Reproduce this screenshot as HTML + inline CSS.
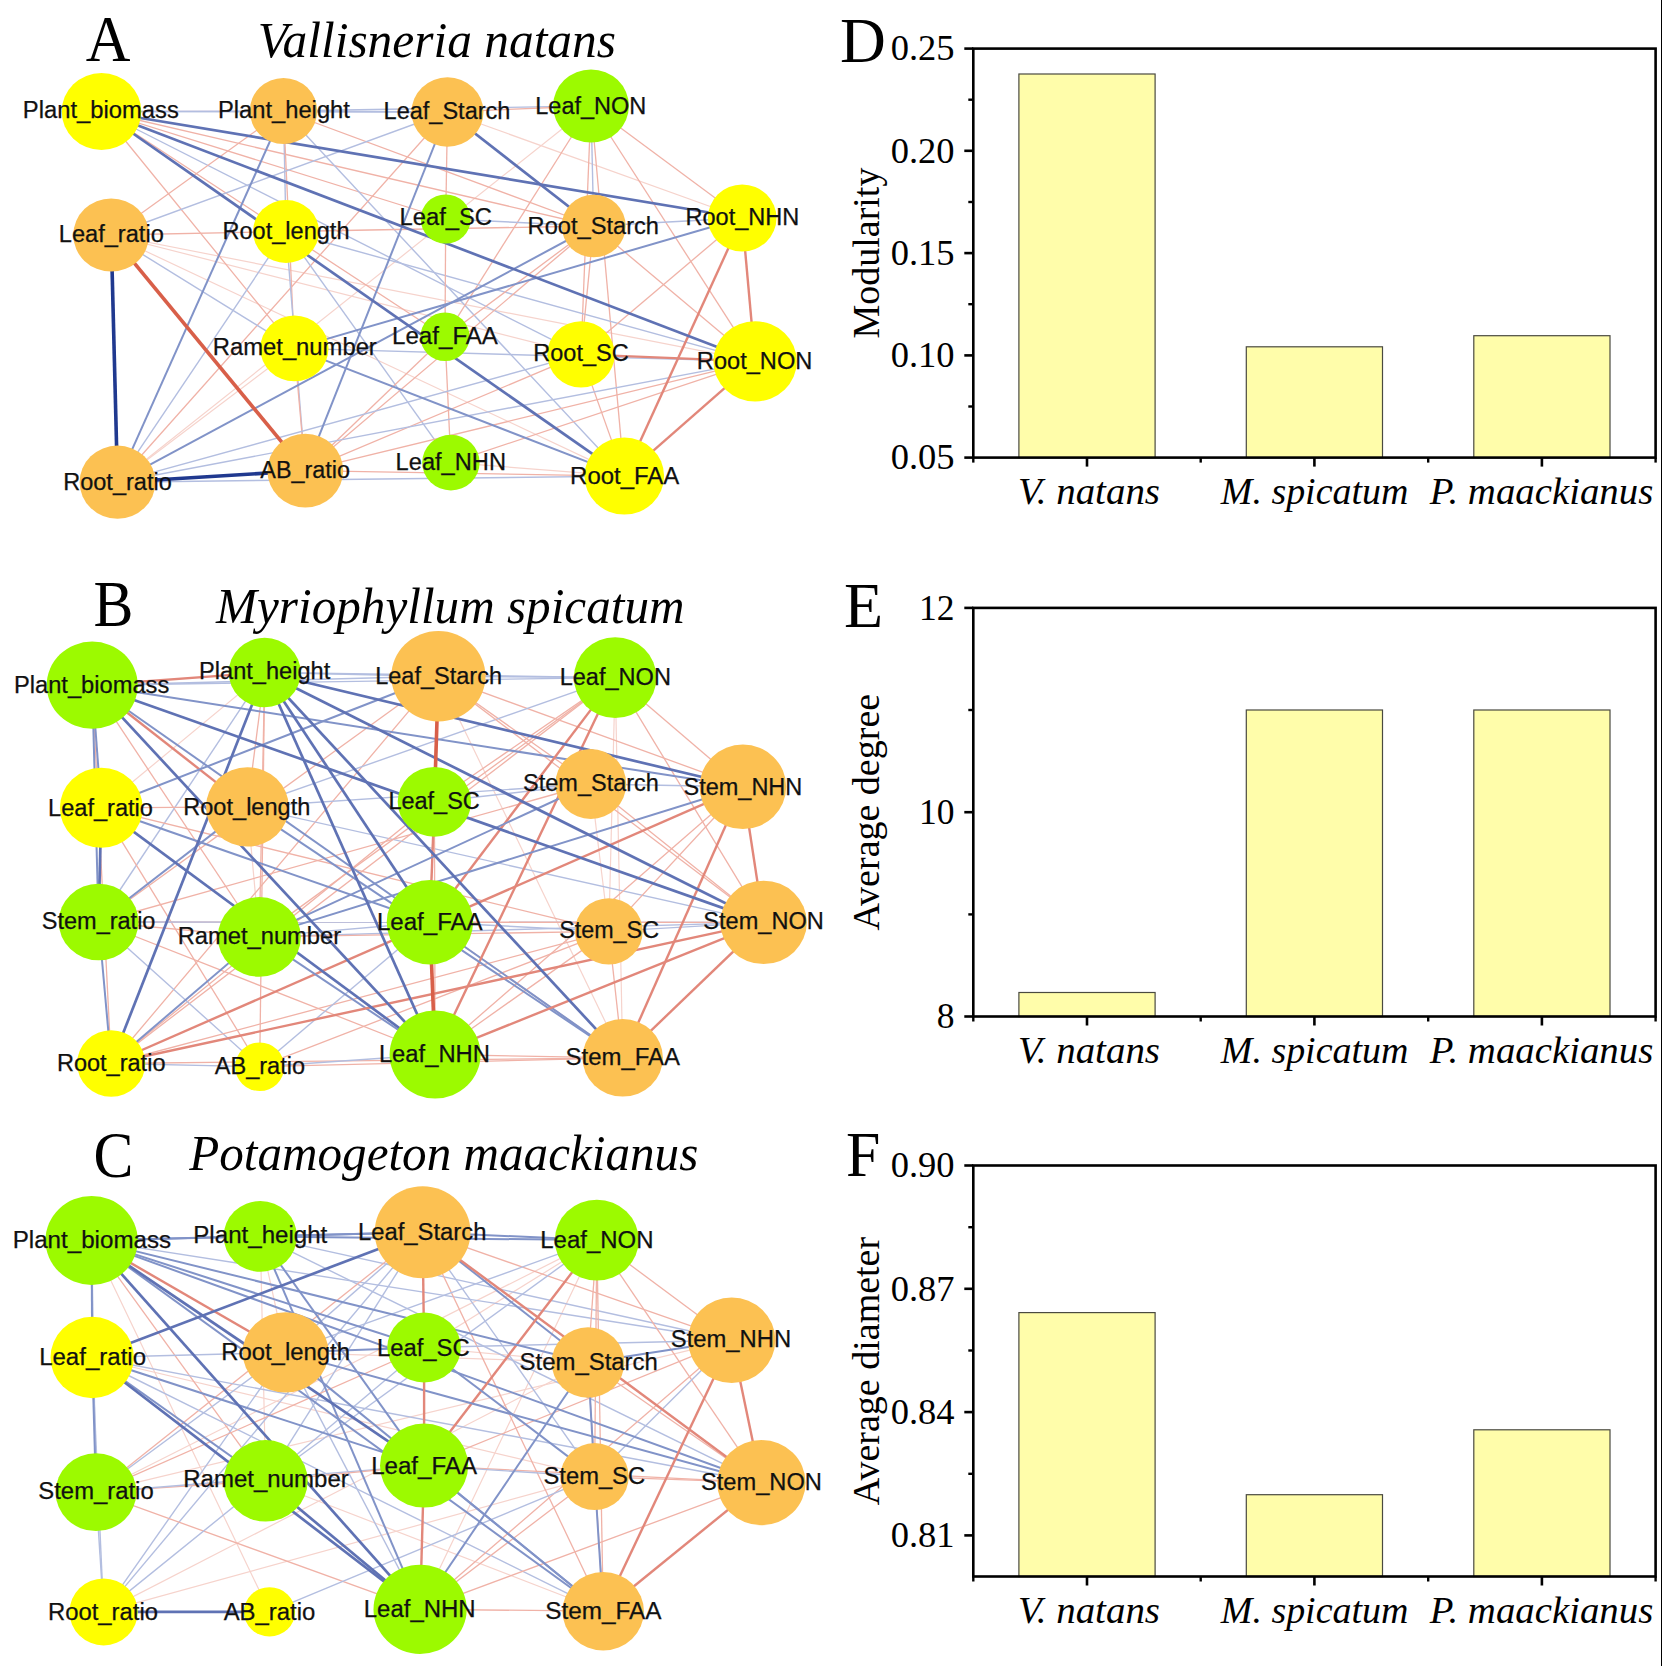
<!DOCTYPE html><html><head><meta charset="utf-8"><style>html,body{margin:0;padding:0;background:#fff;}svg{display:block}</style></head><body>
<svg xmlns="http://www.w3.org/2000/svg" width="1662" height="1666" viewBox="0 0 1662 1666">
<rect width="1662" height="1666" fill="#fff"/>
<g font-family="Liberation Sans, sans-serif" font-size="23.5" fill="#111">
<line x1="101.5" y1="111.5" x2="283.5" y2="111" stroke="#cbc8e2" stroke-width="1.5"/>
<line x1="447.5" y1="112" x2="742.2" y2="218" stroke="#f6d3cc" stroke-width="1.2"/>
<line x1="591" y1="106" x2="117.5" y2="482.2" stroke="#f6d3cc" stroke-width="1.2"/>
<line x1="111.2" y1="235" x2="755.1" y2="361.4" stroke="#f6d3cc" stroke-width="1.2"/>
<line x1="111.2" y1="235" x2="581" y2="354.4" stroke="#f6d3cc" stroke-width="1.2"/>
<line x1="111.2" y1="235" x2="624.3" y2="476.1" stroke="#f6d3cc" stroke-width="1.2"/>
<line x1="294.4" y1="348.4" x2="117.5" y2="482.2" stroke="#f6d3cc" stroke-width="1.2"/>
<line x1="450.9" y1="462.6" x2="624.3" y2="476.1" stroke="#f6d3cc" stroke-width="1.2"/>
<line x1="101.5" y1="111.5" x2="447.5" y2="112" stroke="#b3bee0" stroke-width="1.4"/>
<line x1="283.5" y1="111" x2="447.5" y2="112" stroke="#b3bee0" stroke-width="1.4"/>
<line x1="283.5" y1="111" x2="591" y2="106" stroke="#b3bee0" stroke-width="1.4"/>
<line x1="447.5" y1="112" x2="591" y2="106" stroke="#f0b2a7" stroke-width="1.3"/>
<line x1="101.5" y1="111.5" x2="593.7" y2="226" stroke="#f0b2a7" stroke-width="1.3"/>
<line x1="101.5" y1="111.5" x2="445.7" y2="219" stroke="#f0b2a7" stroke-width="1.3"/>
<line x1="101.5" y1="111.5" x2="581" y2="354.4" stroke="#b3bee0" stroke-width="1.4"/>
<line x1="101.5" y1="111.5" x2="445" y2="336.8" stroke="#f0b2a7" stroke-width="1.3"/>
<line x1="101.5" y1="111.5" x2="294.4" y2="348.4" stroke="#f0b2a7" stroke-width="1.3"/>
<line x1="283.5" y1="111" x2="593.7" y2="226" stroke="#f0b2a7" stroke-width="1.3"/>
<line x1="283.5" y1="111" x2="624.3" y2="476.1" stroke="#b3bee0" stroke-width="1.4"/>
<line x1="283.5" y1="111" x2="286" y2="231.5" stroke="#b3bee0" stroke-width="1.4"/>
<line x1="283.5" y1="111" x2="294.4" y2="348.4" stroke="#f0b2a7" stroke-width="1.3"/>
<line x1="283.5" y1="111" x2="111.2" y2="235" stroke="#f0b2a7" stroke-width="1.3"/>
<line x1="447.5" y1="112" x2="445.7" y2="219" stroke="#f0b2a7" stroke-width="1.3"/>
<line x1="447.5" y1="112" x2="117.5" y2="482.2" stroke="#f0b2a7" stroke-width="1.3"/>
<line x1="447.5" y1="112" x2="111.2" y2="235" stroke="#b3bee0" stroke-width="1.4"/>
<line x1="591" y1="106" x2="742.2" y2="218" stroke="#f0b2a7" stroke-width="1.3"/>
<line x1="591" y1="106" x2="755.1" y2="361.4" stroke="#f0b2a7" stroke-width="1.3"/>
<line x1="591" y1="106" x2="581" y2="354.4" stroke="#f0b2a7" stroke-width="1.3"/>
<line x1="591" y1="106" x2="593.7" y2="226" stroke="#b3bee0" stroke-width="1.4"/>
<line x1="591" y1="106" x2="624.3" y2="476.1" stroke="#f0b2a7" stroke-width="1.3"/>
<line x1="591" y1="106" x2="445" y2="336.8" stroke="#f0b2a7" stroke-width="1.3"/>
<line x1="111.2" y1="235" x2="286" y2="231.5" stroke="#f0b2a7" stroke-width="1.3"/>
<line x1="111.2" y1="235" x2="294.4" y2="348.4" stroke="#b3bee0" stroke-width="1.4"/>
<line x1="286" y1="231.5" x2="593.7" y2="226" stroke="#f0b2a7" stroke-width="1.3"/>
<line x1="286" y1="231.5" x2="755.1" y2="361.4" stroke="#b3bee0" stroke-width="1.4"/>
<line x1="286" y1="231.5" x2="450.9" y2="462.6" stroke="#b3bee0" stroke-width="1.4"/>
<line x1="286" y1="231.5" x2="117.5" y2="482.2" stroke="#b3bee0" stroke-width="1.4"/>
<line x1="286" y1="231.5" x2="305.3" y2="470.7" stroke="#b3bee0" stroke-width="1.4"/>
<line x1="445.7" y1="219" x2="593.7" y2="226" stroke="#b3bee0" stroke-width="1.4"/>
<line x1="445.7" y1="219" x2="445" y2="336.8" stroke="#f0b2a7" stroke-width="1.3"/>
<line x1="593.7" y1="226" x2="742.2" y2="218" stroke="#b3bee0" stroke-width="1.4"/>
<line x1="593.7" y1="226" x2="305.3" y2="470.7" stroke="#f0b2a7" stroke-width="1.3"/>
<line x1="593.7" y1="226" x2="581" y2="354.4" stroke="#f0b2a7" stroke-width="1.3"/>
<line x1="593.7" y1="226" x2="755.1" y2="361.4" stroke="#f0b2a7" stroke-width="1.3"/>
<line x1="742.2" y1="218" x2="581" y2="354.4" stroke="#f0b2a7" stroke-width="1.3"/>
<line x1="294.4" y1="348.4" x2="755.1" y2="361.4" stroke="#b3bee0" stroke-width="1.4"/>
<line x1="294.4" y1="348.4" x2="305.3" y2="470.7" stroke="#f0b2a7" stroke-width="1.3"/>
<line x1="445" y1="336.8" x2="305.3" y2="470.7" stroke="#f0b2a7" stroke-width="1.3"/>
<line x1="445" y1="336.8" x2="450.9" y2="462.6" stroke="#f0b2a7" stroke-width="1.3"/>
<line x1="445" y1="336.8" x2="593.7" y2="226" stroke="#f0b2a7" stroke-width="1.3"/>
<line x1="581" y1="354.4" x2="117.5" y2="482.2" stroke="#b3bee0" stroke-width="1.4"/>
<line x1="581" y1="354.4" x2="305.3" y2="470.7" stroke="#f0b2a7" stroke-width="1.3"/>
<line x1="581" y1="354.4" x2="624.3" y2="476.1" stroke="#f0b2a7" stroke-width="1.3"/>
<line x1="755.1" y1="361.4" x2="117.5" y2="482.2" stroke="#b3bee0" stroke-width="1.4"/>
<line x1="755.1" y1="361.4" x2="305.3" y2="470.7" stroke="#f0b2a7" stroke-width="1.3"/>
<line x1="755.1" y1="361.4" x2="450.9" y2="462.6" stroke="#f0b2a7" stroke-width="1.3"/>
<line x1="117.5" y1="482.2" x2="624.3" y2="476.1" stroke="#b3bee0" stroke-width="1.4"/>
<line x1="305.3" y1="470.7" x2="624.3" y2="476.1" stroke="#f0b2a7" stroke-width="1.3"/>
<line x1="283.5" y1="111" x2="117.5" y2="482.2" stroke="#8193c8" stroke-width="2.0"/>
<line x1="447.5" y1="112" x2="305.3" y2="470.7" stroke="#8193c8" stroke-width="2.0"/>
<line x1="593.7" y1="226" x2="117.5" y2="482.2" stroke="#8193c8" stroke-width="2.0"/>
<line x1="742.2" y1="218" x2="294.4" y2="348.4" stroke="#8193c8" stroke-width="2.0"/>
<line x1="742.2" y1="218" x2="624.3" y2="476.1" stroke="#e2877a" stroke-width="2.4"/>
<line x1="742.2" y1="218" x2="755.1" y2="361.4" stroke="#e2877a" stroke-width="2.4"/>
<line x1="294.4" y1="348.4" x2="624.3" y2="476.1" stroke="#8193c8" stroke-width="2.0"/>
<line x1="581" y1="354.4" x2="755.1" y2="361.4" stroke="#e2877a" stroke-width="2.4"/>
<line x1="755.1" y1="361.4" x2="624.3" y2="476.1" stroke="#e2877a" stroke-width="2.4"/>
<line x1="101.5" y1="111.5" x2="742.2" y2="218" stroke="#5f72b4" stroke-width="2.7"/>
<line x1="101.5" y1="111.5" x2="755.1" y2="361.4" stroke="#5f72b4" stroke-width="2.7"/>
<line x1="101.5" y1="111.5" x2="624.3" y2="476.1" stroke="#5f72b4" stroke-width="2.7"/>
<line x1="447.5" y1="112" x2="593.7" y2="226" stroke="#5f72b4" stroke-width="2.7"/>
<line x1="111.2" y1="235" x2="305.3" y2="470.7" stroke="#d85f49" stroke-width="3.6"/>
<line x1="111.2" y1="235" x2="117.5" y2="482.2" stroke="#20398f" stroke-width="3.6"/>
<line x1="117.5" y1="482.2" x2="305.3" y2="470.7" stroke="#20398f" stroke-width="3.6"/>
<ellipse cx="101.5" cy="111.5" rx="39.8" ry="38.5" fill="#FFFF00"/>
<ellipse cx="283.5" cy="111" rx="33.7" ry="33.1" fill="#FCC152"/>
<ellipse cx="447.5" cy="112" rx="36" ry="34.7" fill="#FCC152"/>
<ellipse cx="591" cy="106" rx="37.9" ry="36.6" fill="#9CFA00"/>
<ellipse cx="111.2" cy="235" rx="37.9" ry="36.6" fill="#FCC152"/>
<ellipse cx="286" cy="231.5" rx="33" ry="31.5" fill="#FFFF00"/>
<ellipse cx="445.7" cy="219" rx="25" ry="24.6" fill="#9CFA00"/>
<ellipse cx="593.7" cy="226" rx="32" ry="31.3" fill="#FCC152"/>
<ellipse cx="742.2" cy="218" rx="34.3" ry="33.5" fill="#FFFF00"/>
<ellipse cx="294.4" cy="348.4" rx="34.1" ry="32.9" fill="#FFFF00"/>
<ellipse cx="445" cy="336.8" rx="24.6" ry="24.3" fill="#9CFA00"/>
<ellipse cx="581" cy="354.4" rx="33.7" ry="33.1" fill="#FFFF00"/>
<ellipse cx="755.1" cy="361.4" rx="41.7" ry="40.1" fill="#FFFF00"/>
<ellipse cx="117.5" cy="482.2" rx="37.9" ry="36.6" fill="#FCC152"/>
<ellipse cx="305.3" cy="470.7" rx="37.9" ry="36.9" fill="#FCC152"/>
<ellipse cx="450.9" cy="462.6" rx="28.7" ry="27.8" fill="#9CFA00"/>
<ellipse cx="624.3" cy="476.1" rx="39.8" ry="38.5" fill="#FFFF00"/>
<text x="100.8" y="118.3" text-anchor="middle" textLength="156" lengthAdjust="spacingAndGlyphs" stroke="#111" stroke-width="0.25">Plant_biomass</text>
<text x="283.9" y="118.3" text-anchor="middle" textLength="132" lengthAdjust="spacingAndGlyphs" stroke="#111" stroke-width="0.25">Plant_height</text>
<text x="447" y="118.8" text-anchor="middle" textLength="126.8" lengthAdjust="spacingAndGlyphs" stroke="#111" stroke-width="0.25">Leaf_Starch</text>
<text x="590.8" y="113.8" text-anchor="middle" textLength="111" lengthAdjust="spacingAndGlyphs" stroke="#111" stroke-width="0.25">Leaf_NON</text>
<text x="111.3" y="242.1" text-anchor="middle" textLength="105" lengthAdjust="spacingAndGlyphs" stroke="#111" stroke-width="0.25">Leaf_ratio</text>
<text x="286" y="238.8" text-anchor="middle" textLength="127" lengthAdjust="spacingAndGlyphs" stroke="#111" stroke-width="0.25">Root_length</text>
<text x="445.8" y="225.4" text-anchor="middle" textLength="92.4" lengthAdjust="spacingAndGlyphs" stroke="#111" stroke-width="0.25">Leaf_SC</text>
<text x="593.3" y="233.8" text-anchor="middle" textLength="131.4" lengthAdjust="spacingAndGlyphs" stroke="#111" stroke-width="0.25">Root_Starch</text>
<text x="742.4" y="224.9" text-anchor="middle" textLength="113.7" lengthAdjust="spacingAndGlyphs" stroke="#111" stroke-width="0.25">Root_NHN</text>
<text x="294.8" y="355.4" text-anchor="middle" textLength="164" lengthAdjust="spacingAndGlyphs" stroke="#111" stroke-width="0.25">Ramet_number</text>
<text x="445" y="343.8" text-anchor="middle" textLength="105.9" lengthAdjust="spacingAndGlyphs" stroke="#111" stroke-width="0.25">Leaf_FAA</text>
<text x="581" y="361" text-anchor="middle" textLength="95.3" lengthAdjust="spacingAndGlyphs" stroke="#111" stroke-width="0.25">Root_SC</text>
<text x="754.6" y="368.6" text-anchor="middle" textLength="115.5" lengthAdjust="spacingAndGlyphs" stroke="#111" stroke-width="0.25">Root_NON</text>
<text x="117.5" y="489.9" text-anchor="middle" textLength="108.6" lengthAdjust="spacingAndGlyphs" stroke="#111" stroke-width="0.25">Root_ratio</text>
<text x="305.2" y="477.7" text-anchor="middle" textLength="89.7" lengthAdjust="spacingAndGlyphs" stroke="#111" stroke-width="0.25">AB_ratio</text>
<text x="450.8" y="469.6" text-anchor="middle" textLength="110.4" lengthAdjust="spacingAndGlyphs" stroke="#111" stroke-width="0.25">Leaf_NHN</text>
<text x="624.7" y="483.5" text-anchor="middle" textLength="109.2" lengthAdjust="spacingAndGlyphs" stroke="#111" stroke-width="0.25">Root_FAA</text>
<line x1="264.7" y1="672.5" x2="101.3" y2="807.8" stroke="#f6d3cc" stroke-width="1.2"/>
<line x1="438.4" y1="676.2" x2="622.7" y2="1057.8" stroke="#f6d3cc" stroke-width="1.2"/>
<line x1="615.2" y1="677.6" x2="622.7" y2="1057.8" stroke="#f6d3cc" stroke-width="1.2"/>
<line x1="615.2" y1="677.6" x2="608.8" y2="931.4" stroke="#f6d3cc" stroke-width="1.2"/>
<line x1="247.4" y1="806.9" x2="259.3" y2="936.9" stroke="#f6d3cc" stroke-width="1.2"/>
<line x1="590.8" y1="784" x2="608.8" y2="931.4" stroke="#f6d3cc" stroke-width="1.2"/>
<line x1="92.2" y1="685.2" x2="438.4" y2="676.2" stroke="#b3bee0" stroke-width="1.4"/>
<line x1="92.2" y1="685.2" x2="615.2" y2="677.6" stroke="#b3bee0" stroke-width="1.4"/>
<line x1="92.2" y1="685.2" x2="259.3" y2="936.9" stroke="#f0b2a7" stroke-width="1.3"/>
<line x1="92.2" y1="685.2" x2="111.2" y2="1063.5" stroke="#f0b2a7" stroke-width="1.3"/>
<line x1="264.7" y1="672.5" x2="438.4" y2="676.2" stroke="#b3bee0" stroke-width="1.4"/>
<line x1="264.7" y1="672.5" x2="615.2" y2="677.6" stroke="#b3bee0" stroke-width="1.4"/>
<line x1="264.7" y1="672.5" x2="247.4" y2="806.9" stroke="#f0b2a7" stroke-width="1.3"/>
<line x1="264.7" y1="672.5" x2="259.3" y2="936.9" stroke="#f0b2a7" stroke-width="1.3"/>
<line x1="264.7" y1="672.5" x2="259.7" y2="1066.7" stroke="#f0b2a7" stroke-width="1.3"/>
<line x1="264.7" y1="672.5" x2="98.6" y2="922" stroke="#b3bee0" stroke-width="1.4"/>
<line x1="438.4" y1="676.2" x2="615.2" y2="677.6" stroke="#b3bee0" stroke-width="1.4"/>
<line x1="438.4" y1="676.2" x2="111.2" y2="1063.5" stroke="#f0b2a7" stroke-width="1.3"/>
<line x1="438.4" y1="676.2" x2="98.6" y2="922" stroke="#f0b2a7" stroke-width="1.3"/>
<line x1="438.4" y1="676.2" x2="590.8" y2="784" stroke="#f0b2a7" stroke-width="1.3"/>
<line x1="438.4" y1="676.2" x2="742.9" y2="786.8" stroke="#f0b2a7" stroke-width="1.3"/>
<line x1="438.4" y1="676.2" x2="429.9" y2="922.2" stroke="#f0b2a7" stroke-width="1.3"/>
<line x1="615.2" y1="677.6" x2="247.4" y2="806.9" stroke="#b3bee0" stroke-width="1.4"/>
<line x1="615.2" y1="677.6" x2="434.4" y2="801.8" stroke="#f0b2a7" stroke-width="1.3"/>
<line x1="615.2" y1="677.6" x2="259.3" y2="936.9" stroke="#f0b2a7" stroke-width="1.3"/>
<line x1="615.2" y1="677.6" x2="111.2" y2="1063.5" stroke="#f0b2a7" stroke-width="1.3"/>
<line x1="615.2" y1="677.6" x2="763.6" y2="922.4" stroke="#f0b2a7" stroke-width="1.3"/>
<line x1="615.2" y1="677.6" x2="742.9" y2="786.8" stroke="#f0b2a7" stroke-width="1.3"/>
<line x1="101.3" y1="807.8" x2="247.4" y2="806.9" stroke="#f0b2a7" stroke-width="1.3"/>
<line x1="101.3" y1="807.8" x2="608.8" y2="931.4" stroke="#f0b2a7" stroke-width="1.3"/>
<line x1="101.3" y1="807.8" x2="259.7" y2="1066.7" stroke="#f0b2a7" stroke-width="1.3"/>
<line x1="247.4" y1="806.9" x2="590.8" y2="784" stroke="#b3bee0" stroke-width="1.4"/>
<line x1="247.4" y1="806.9" x2="763.6" y2="922.4" stroke="#b3bee0" stroke-width="1.4"/>
<line x1="434.4" y1="801.8" x2="435.1" y2="1054.5" stroke="#f0b2a7" stroke-width="1.3"/>
<line x1="434.4" y1="801.8" x2="590.8" y2="784" stroke="#b3bee0" stroke-width="1.4"/>
<line x1="434.4" y1="801.8" x2="111.2" y2="1063.5" stroke="#f0b2a7" stroke-width="1.3"/>
<line x1="590.8" y1="784" x2="98.6" y2="922" stroke="#f0b2a7" stroke-width="1.3"/>
<line x1="590.8" y1="784" x2="763.6" y2="922.4" stroke="#f0b2a7" stroke-width="1.3"/>
<line x1="590.8" y1="784" x2="742.9" y2="786.8" stroke="#b3bee0" stroke-width="1.4"/>
<line x1="742.9" y1="786.8" x2="435.1" y2="1054.5" stroke="#f0b2a7" stroke-width="1.3"/>
<line x1="742.9" y1="786.8" x2="608.8" y2="931.4" stroke="#f0b2a7" stroke-width="1.3"/>
<line x1="98.6" y1="922" x2="429.9" y2="922.2" stroke="#f0b2a7" stroke-width="1.3"/>
<line x1="98.6" y1="922" x2="763.6" y2="922.4" stroke="#b3bee0" stroke-width="1.4"/>
<line x1="98.6" y1="922" x2="435.1" y2="1054.5" stroke="#f0b2a7" stroke-width="1.3"/>
<line x1="98.6" y1="922" x2="259.7" y2="1066.7" stroke="#b3bee0" stroke-width="1.4"/>
<line x1="259.3" y1="936.9" x2="98.6" y2="922" stroke="#f0b2a7" stroke-width="1.3"/>
<line x1="259.3" y1="936.9" x2="429.9" y2="922.2" stroke="#b3bee0" stroke-width="1.4"/>
<line x1="259.3" y1="936.9" x2="763.6" y2="922.4" stroke="#b3bee0" stroke-width="1.4"/>
<line x1="259.3" y1="936.9" x2="608.8" y2="931.4" stroke="#f0b2a7" stroke-width="1.3"/>
<line x1="429.9" y1="922.2" x2="608.8" y2="931.4" stroke="#b3bee0" stroke-width="1.4"/>
<line x1="429.9" y1="922.2" x2="763.6" y2="922.4" stroke="#f0b2a7" stroke-width="1.3"/>
<line x1="429.9" y1="922.2" x2="622.7" y2="1057.8" stroke="#f0b2a7" stroke-width="1.3"/>
<line x1="608.8" y1="931.4" x2="763.6" y2="922.4" stroke="#b3bee0" stroke-width="1.4"/>
<line x1="608.8" y1="931.4" x2="622.7" y2="1057.8" stroke="#f0b2a7" stroke-width="1.3"/>
<line x1="608.8" y1="931.4" x2="111.2" y2="1063.5" stroke="#f0b2a7" stroke-width="1.3"/>
<line x1="608.8" y1="931.4" x2="259.7" y2="1066.7" stroke="#f0b2a7" stroke-width="1.3"/>
<line x1="608.8" y1="931.4" x2="435.1" y2="1054.5" stroke="#f0b2a7" stroke-width="1.3"/>
<line x1="763.6" y1="922.4" x2="438.4" y2="676.2" stroke="#f0b2a7" stroke-width="1.3"/>
<line x1="111.2" y1="1063.5" x2="259.7" y2="1066.7" stroke="#b3bee0" stroke-width="1.4"/>
<line x1="111.2" y1="1063.5" x2="622.7" y2="1057.8" stroke="#f0b2a7" stroke-width="1.3"/>
<line x1="259.7" y1="1066.7" x2="429.9" y2="922.2" stroke="#b3bee0" stroke-width="1.4"/>
<line x1="259.7" y1="1066.7" x2="435.1" y2="1054.5" stroke="#b3bee0" stroke-width="1.4"/>
<line x1="259.7" y1="1066.7" x2="622.7" y2="1057.8" stroke="#f0b2a7" stroke-width="1.3"/>
<line x1="435.1" y1="1054.5" x2="622.7" y2="1057.8" stroke="#f0b2a7" stroke-width="1.3"/>
<line x1="92.2" y1="685.2" x2="264.7" y2="672.5" stroke="#e2877a" stroke-width="2.4"/>
<line x1="92.2" y1="685.2" x2="742.9" y2="786.8" stroke="#8193c8" stroke-width="2.0"/>
<line x1="92.2" y1="685.2" x2="622.7" y2="1057.8" stroke="#8193c8" stroke-width="2.0"/>
<line x1="92.2" y1="685.2" x2="247.4" y2="806.9" stroke="#e2877a" stroke-width="2.4"/>
<line x1="92.2" y1="685.2" x2="98.6" y2="922" stroke="#8193c8" stroke-width="2.0"/>
<line x1="92.2" y1="685.2" x2="101.3" y2="807.8" stroke="#8193c8" stroke-width="2.0"/>
<line x1="438.4" y1="676.2" x2="101.3" y2="807.8" stroke="#8193c8" stroke-width="2.0"/>
<line x1="615.2" y1="677.6" x2="429.9" y2="922.2" stroke="#e2877a" stroke-width="2.4"/>
<line x1="615.2" y1="677.6" x2="435.1" y2="1054.5" stroke="#e2877a" stroke-width="2.4"/>
<line x1="101.3" y1="807.8" x2="429.9" y2="922.2" stroke="#8193c8" stroke-width="2.0"/>
<line x1="247.4" y1="806.9" x2="622.7" y2="1057.8" stroke="#8193c8" stroke-width="2.0"/>
<line x1="434.4" y1="801.8" x2="429.9" y2="922.2" stroke="#e2877a" stroke-width="2.4"/>
<line x1="590.8" y1="784" x2="259.3" y2="936.9" stroke="#8193c8" stroke-width="2.0"/>
<line x1="742.9" y1="786.8" x2="259.3" y2="936.9" stroke="#8193c8" stroke-width="2.0"/>
<line x1="742.9" y1="786.8" x2="111.2" y2="1063.5" stroke="#e2877a" stroke-width="2.4"/>
<line x1="742.9" y1="786.8" x2="622.7" y2="1057.8" stroke="#e2877a" stroke-width="2.4"/>
<line x1="742.9" y1="786.8" x2="763.6" y2="922.4" stroke="#e2877a" stroke-width="2.4"/>
<line x1="98.6" y1="922" x2="247.4" y2="806.9" stroke="#8193c8" stroke-width="2.0"/>
<line x1="98.6" y1="922" x2="111.2" y2="1063.5" stroke="#8193c8" stroke-width="2.0"/>
<line x1="259.3" y1="936.9" x2="435.1" y2="1054.5" stroke="#8193c8" stroke-width="2.0"/>
<line x1="259.3" y1="936.9" x2="111.2" y2="1063.5" stroke="#8193c8" stroke-width="2.0"/>
<line x1="763.6" y1="922.4" x2="111.2" y2="1063.5" stroke="#e2877a" stroke-width="2.4"/>
<line x1="763.6" y1="922.4" x2="435.1" y2="1054.5" stroke="#e2877a" stroke-width="2.4"/>
<line x1="763.6" y1="922.4" x2="622.7" y2="1057.8" stroke="#e2877a" stroke-width="2.4"/>
<line x1="92.2" y1="685.2" x2="763.6" y2="922.4" stroke="#5f72b4" stroke-width="2.7"/>
<line x1="92.2" y1="685.2" x2="435.1" y2="1054.5" stroke="#5f72b4" stroke-width="2.7"/>
<line x1="264.7" y1="672.5" x2="742.9" y2="786.8" stroke="#5f72b4" stroke-width="2.7"/>
<line x1="264.7" y1="672.5" x2="763.6" y2="922.4" stroke="#5f72b4" stroke-width="2.7"/>
<line x1="264.7" y1="672.5" x2="622.7" y2="1057.8" stroke="#5f72b4" stroke-width="2.7"/>
<line x1="264.7" y1="672.5" x2="429.9" y2="922.2" stroke="#5f72b4" stroke-width="2.7"/>
<line x1="264.7" y1="672.5" x2="435.1" y2="1054.5" stroke="#5f72b4" stroke-width="2.7"/>
<line x1="264.7" y1="672.5" x2="111.2" y2="1063.5" stroke="#5f72b4" stroke-width="2.7"/>
<line x1="438.4" y1="676.2" x2="434.4" y2="801.8" stroke="#d85f49" stroke-width="3.6"/>
<line x1="101.3" y1="807.8" x2="435.1" y2="1054.5" stroke="#5f72b4" stroke-width="2.7"/>
<line x1="101.3" y1="807.8" x2="98.6" y2="922" stroke="#5f72b4" stroke-width="2.7"/>
<line x1="429.9" y1="922.2" x2="435.1" y2="1054.5" stroke="#d85f49" stroke-width="3.6"/>
<ellipse cx="92.2" cy="685.2" rx="45.5" ry="43.6" fill="#9CFA00"/>
<ellipse cx="264.7" cy="672.5" rx="36" ry="34.7" fill="#9CFA00"/>
<ellipse cx="438.4" cy="676.2" rx="47.1" ry="45.2" fill="#FCC152"/>
<ellipse cx="615.2" cy="677.6" rx="41.3" ry="40.4" fill="#9CFA00"/>
<ellipse cx="101.3" cy="807.8" rx="41.4" ry="40" fill="#FFFF00"/>
<ellipse cx="247.4" cy="806.9" rx="41.4" ry="39.7" fill="#FCC152"/>
<ellipse cx="434.4" cy="801.8" rx="36.7" ry="34.9" fill="#9CFA00"/>
<ellipse cx="590.8" cy="784" rx="35.4" ry="35" fill="#FCC152"/>
<ellipse cx="742.9" cy="786.8" rx="43.3" ry="42.3" fill="#FCC152"/>
<ellipse cx="98.6" cy="922" rx="39.9" ry="38.3" fill="#9CFA00"/>
<ellipse cx="259.3" cy="936.9" rx="41.5" ry="39.8" fill="#9CFA00"/>
<ellipse cx="429.9" cy="922.2" rx="43.2" ry="42.2" fill="#9CFA00"/>
<ellipse cx="608.8" cy="931.4" rx="33.9" ry="33.1" fill="#FCC152"/>
<ellipse cx="763.6" cy="922.4" rx="43.2" ry="41.7" fill="#FCC152"/>
<ellipse cx="111.2" cy="1063.5" rx="34.1" ry="33.2" fill="#FFFF00"/>
<ellipse cx="259.7" cy="1066.7" rx="24.6" ry="24.3" fill="#FFFF00"/>
<ellipse cx="435.1" cy="1054.5" rx="45.5" ry="44" fill="#9CFA00"/>
<ellipse cx="622.7" cy="1057.8" rx="40.2" ry="38.8" fill="#FCC152"/>
<text x="91.6" y="692.7" text-anchor="middle" textLength="155.4" lengthAdjust="spacingAndGlyphs" stroke="#111" stroke-width="0.25">Plant_biomass</text>
<text x="264.7" y="679.3" text-anchor="middle" textLength="131.2" lengthAdjust="spacingAndGlyphs" stroke="#111" stroke-width="0.25">Plant_height</text>
<text x="438.6" y="684" text-anchor="middle" textLength="126.8" lengthAdjust="spacingAndGlyphs" stroke="#111" stroke-width="0.25">Leaf_Starch</text>
<text x="615.3" y="684.6" text-anchor="middle" textLength="111.2" lengthAdjust="spacingAndGlyphs" stroke="#111" stroke-width="0.25">Leaf_NON</text>
<text x="100.5" y="815.7" text-anchor="middle" textLength="105" lengthAdjust="spacingAndGlyphs" stroke="#111" stroke-width="0.25">Leaf_ratio</text>
<text x="246.8" y="814.7" text-anchor="middle" textLength="127.1" lengthAdjust="spacingAndGlyphs" stroke="#111" stroke-width="0.25">Root_length</text>
<text x="434.1" y="809.3" text-anchor="middle" textLength="91.4" lengthAdjust="spacingAndGlyphs" stroke="#111" stroke-width="0.25">Leaf_SC</text>
<text x="591" y="791.2" text-anchor="middle" textLength="135.9" lengthAdjust="spacingAndGlyphs" stroke="#111" stroke-width="0.25">Stem_Starch</text>
<text x="742.9" y="795" text-anchor="middle" textLength="118.8" lengthAdjust="spacingAndGlyphs" stroke="#111" stroke-width="0.25">Stem_NHN</text>
<text x="98.6" y="929.2" text-anchor="middle" textLength="113.7" lengthAdjust="spacingAndGlyphs" stroke="#111" stroke-width="0.25">Stem_ratio</text>
<text x="259.4" y="943.8" text-anchor="middle" textLength="163.5" lengthAdjust="spacingAndGlyphs" stroke="#111" stroke-width="0.25">Ramet_number</text>
<text x="429.8" y="929.8" text-anchor="middle" textLength="105.7" lengthAdjust="spacingAndGlyphs" stroke="#111" stroke-width="0.25">Leaf_FAA</text>
<text x="609.1" y="938.3" text-anchor="middle" textLength="99.8" lengthAdjust="spacingAndGlyphs" stroke="#111" stroke-width="0.25">Stem_SC</text>
<text x="763.6" y="929.2" text-anchor="middle" textLength="120.5" lengthAdjust="spacingAndGlyphs" stroke="#111" stroke-width="0.25">Stem_NON</text>
<text x="111.2" y="1070.7" text-anchor="middle" textLength="108.6" lengthAdjust="spacingAndGlyphs" stroke="#111" stroke-width="0.25">Root_ratio</text>
<text x="259.9" y="1073.5" text-anchor="middle" textLength="90.2" lengthAdjust="spacingAndGlyphs" stroke="#111" stroke-width="0.25">AB_ratio</text>
<text x="434.4" y="1062.4" text-anchor="middle" textLength="111" lengthAdjust="spacingAndGlyphs" stroke="#111" stroke-width="0.25">Leaf_NHN</text>
<text x="622.8" y="1064.6" text-anchor="middle" textLength="114.5" lengthAdjust="spacingAndGlyphs" stroke="#111" stroke-width="0.25">Stem_FAA</text>
<line x1="91.6" y1="1240.4" x2="269.5" y2="1611.8" stroke="#f6d3cc" stroke-width="1.2"/>
<line x1="260.3" y1="1236.4" x2="265.7" y2="1480.8" stroke="#f6d3cc" stroke-width="1.2"/>
<line x1="260.3" y1="1236.4" x2="285.6" y2="1352.4" stroke="#f6d3cc" stroke-width="1.2"/>
<line x1="596.8" y1="1240.1" x2="96" y2="1492.2" stroke="#f6d3cc" stroke-width="1.2"/>
<line x1="596.8" y1="1240.1" x2="424.1" y2="1347.5" stroke="#f6d3cc" stroke-width="1.2"/>
<line x1="596.8" y1="1240.1" x2="420.1" y2="1609.3" stroke="#f6d3cc" stroke-width="1.2"/>
<line x1="92.2" y1="1357.5" x2="594.6" y2="1476.6" stroke="#f6d3cc" stroke-width="1.2"/>
<line x1="285.6" y1="1352.4" x2="588" y2="1362.5" stroke="#f6d3cc" stroke-width="1.2"/>
<line x1="424.1" y1="1347.5" x2="588" y2="1362.5" stroke="#f6d3cc" stroke-width="1.2"/>
<line x1="588" y1="1362.5" x2="103.6" y2="1611.9" stroke="#f6d3cc" stroke-width="1.2"/>
<line x1="731.7" y1="1340.2" x2="96" y2="1492.2" stroke="#f6d3cc" stroke-width="1.2"/>
<line x1="265.7" y1="1480.8" x2="603.2" y2="1611.2" stroke="#f6d3cc" stroke-width="1.2"/>
<line x1="594.6" y1="1476.6" x2="103.6" y2="1611.9" stroke="#f6d3cc" stroke-width="1.2"/>
<line x1="91.6" y1="1240.4" x2="731.7" y2="1340.2" stroke="#b3bee0" stroke-width="1.4"/>
<line x1="91.6" y1="1240.4" x2="265.7" y2="1480.8" stroke="#f0b2a7" stroke-width="1.3"/>
<line x1="91.6" y1="1240.4" x2="96" y2="1492.2" stroke="#b3bee0" stroke-width="1.4"/>
<line x1="260.3" y1="1236.4" x2="731.7" y2="1340.2" stroke="#b3bee0" stroke-width="1.4"/>
<line x1="260.3" y1="1236.4" x2="761.4" y2="1482.7" stroke="#b3bee0" stroke-width="1.4"/>
<line x1="422.6" y1="1232.2" x2="731.7" y2="1340.2" stroke="#f0b2a7" stroke-width="1.3"/>
<line x1="422.6" y1="1232.2" x2="603.2" y2="1611.2" stroke="#f0b2a7" stroke-width="1.3"/>
<line x1="422.6" y1="1232.2" x2="594.6" y2="1476.6" stroke="#b3bee0" stroke-width="1.4"/>
<line x1="422.6" y1="1232.2" x2="285.6" y2="1352.4" stroke="#b3bee0" stroke-width="1.4"/>
<line x1="422.6" y1="1232.2" x2="96" y2="1492.2" stroke="#f0b2a7" stroke-width="1.3"/>
<line x1="422.6" y1="1232.2" x2="103.6" y2="1611.9" stroke="#b3bee0" stroke-width="1.4"/>
<line x1="422.6" y1="1232.2" x2="265.7" y2="1480.8" stroke="#b3bee0" stroke-width="1.4"/>
<line x1="596.8" y1="1240.1" x2="285.6" y2="1352.4" stroke="#b3bee0" stroke-width="1.4"/>
<line x1="596.8" y1="1240.1" x2="265.7" y2="1480.8" stroke="#b3bee0" stroke-width="1.4"/>
<line x1="596.8" y1="1240.1" x2="603.2" y2="1611.2" stroke="#f0b2a7" stroke-width="1.3"/>
<line x1="596.8" y1="1240.1" x2="761.4" y2="1482.7" stroke="#f0b2a7" stroke-width="1.3"/>
<line x1="596.8" y1="1240.1" x2="731.7" y2="1340.2" stroke="#f0b2a7" stroke-width="1.3"/>
<line x1="596.8" y1="1240.1" x2="594.6" y2="1476.6" stroke="#f0b2a7" stroke-width="1.3"/>
<line x1="92.2" y1="1357.5" x2="761.4" y2="1482.7" stroke="#b3bee0" stroke-width="1.4"/>
<line x1="92.2" y1="1357.5" x2="603.2" y2="1611.2" stroke="#b3bee0" stroke-width="1.4"/>
<line x1="92.2" y1="1357.5" x2="103.6" y2="1611.9" stroke="#b3bee0" stroke-width="1.4"/>
<line x1="92.2" y1="1357.5" x2="285.6" y2="1352.4" stroke="#b3bee0" stroke-width="1.4"/>
<line x1="285.6" y1="1352.4" x2="420.1" y2="1609.3" stroke="#b3bee0" stroke-width="1.4"/>
<line x1="285.6" y1="1352.4" x2="103.6" y2="1611.9" stroke="#b3bee0" stroke-width="1.4"/>
<line x1="424.1" y1="1347.5" x2="731.7" y2="1340.2" stroke="#b3bee0" stroke-width="1.4"/>
<line x1="424.1" y1="1347.5" x2="96" y2="1492.2" stroke="#f0b2a7" stroke-width="1.3"/>
<line x1="424.1" y1="1347.5" x2="265.7" y2="1480.8" stroke="#b3bee0" stroke-width="1.4"/>
<line x1="588" y1="1362.5" x2="596.8" y2="1240.1" stroke="#f0b2a7" stroke-width="1.3"/>
<line x1="588" y1="1362.5" x2="761.4" y2="1482.7" stroke="#f0b2a7" stroke-width="1.3"/>
<line x1="588" y1="1362.5" x2="603.2" y2="1611.2" stroke="#f0b2a7" stroke-width="1.3"/>
<line x1="731.7" y1="1340.2" x2="424.1" y2="1465.6" stroke="#f0b2a7" stroke-width="1.3"/>
<line x1="731.7" y1="1340.2" x2="420.1" y2="1609.3" stroke="#f0b2a7" stroke-width="1.3"/>
<line x1="731.7" y1="1340.2" x2="594.6" y2="1476.6" stroke="#b3bee0" stroke-width="1.4"/>
<line x1="96" y1="1492.2" x2="265.7" y2="1480.8" stroke="#f0b2a7" stroke-width="1.3"/>
<line x1="96" y1="1492.2" x2="424.1" y2="1465.6" stroke="#b3bee0" stroke-width="1.4"/>
<line x1="96" y1="1492.2" x2="420.1" y2="1609.3" stroke="#f0b2a7" stroke-width="1.3"/>
<line x1="96" y1="1492.2" x2="103.6" y2="1611.9" stroke="#b3bee0" stroke-width="1.4"/>
<line x1="96" y1="1492.2" x2="285.6" y2="1352.4" stroke="#b3bee0" stroke-width="1.4"/>
<line x1="265.7" y1="1480.8" x2="103.6" y2="1611.9" stroke="#b3bee0" stroke-width="1.4"/>
<line x1="265.7" y1="1480.8" x2="424.1" y2="1465.6" stroke="#f0b2a7" stroke-width="1.3"/>
<line x1="424.1" y1="1465.6" x2="761.4" y2="1482.7" stroke="#f0b2a7" stroke-width="1.3"/>
<line x1="424.1" y1="1465.6" x2="594.6" y2="1476.6" stroke="#b3bee0" stroke-width="1.4"/>
<line x1="594.6" y1="1476.6" x2="761.4" y2="1482.7" stroke="#f0b2a7" stroke-width="1.3"/>
<line x1="594.6" y1="1476.6" x2="269.5" y2="1611.8" stroke="#b3bee0" stroke-width="1.4"/>
<line x1="594.6" y1="1476.6" x2="420.1" y2="1609.3" stroke="#f0b2a7" stroke-width="1.3"/>
<line x1="761.4" y1="1482.7" x2="420.1" y2="1609.3" stroke="#f0b2a7" stroke-width="1.3"/>
<line x1="420.1" y1="1609.3" x2="603.2" y2="1611.2" stroke="#f0b2a7" stroke-width="1.3"/>
<line x1="91.6" y1="1240.4" x2="260.3" y2="1236.4" stroke="#8193c8" stroke-width="2.0"/>
<line x1="91.6" y1="1240.4" x2="422.6" y2="1232.2" stroke="#8193c8" stroke-width="2.0"/>
<line x1="91.6" y1="1240.4" x2="424.1" y2="1347.5" stroke="#8193c8" stroke-width="2.0"/>
<line x1="91.6" y1="1240.4" x2="761.4" y2="1482.7" stroke="#8193c8" stroke-width="2.0"/>
<line x1="91.6" y1="1240.4" x2="603.2" y2="1611.2" stroke="#8193c8" stroke-width="2.0"/>
<line x1="91.6" y1="1240.4" x2="285.6" y2="1352.4" stroke="#e2877a" stroke-width="2.4"/>
<line x1="91.6" y1="1240.4" x2="92.2" y2="1357.5" stroke="#8193c8" stroke-width="2.0"/>
<line x1="260.3" y1="1236.4" x2="422.6" y2="1232.2" stroke="#8193c8" stroke-width="2.0"/>
<line x1="260.3" y1="1236.4" x2="596.8" y2="1240.1" stroke="#8193c8" stroke-width="2.0"/>
<line x1="260.3" y1="1236.4" x2="424.1" y2="1465.6" stroke="#8193c8" stroke-width="2.0"/>
<line x1="260.3" y1="1236.4" x2="420.1" y2="1609.3" stroke="#8193c8" stroke-width="2.0"/>
<line x1="422.6" y1="1232.2" x2="596.8" y2="1240.1" stroke="#8193c8" stroke-width="2.0"/>
<line x1="422.6" y1="1232.2" x2="588" y2="1362.5" stroke="#8193c8" stroke-width="2.0"/>
<line x1="422.6" y1="1232.2" x2="761.4" y2="1482.7" stroke="#e2877a" stroke-width="2.4"/>
<line x1="422.6" y1="1232.2" x2="424.1" y2="1347.5" stroke="#e2877a" stroke-width="2.4"/>
<line x1="596.8" y1="1240.1" x2="424.1" y2="1465.6" stroke="#e2877a" stroke-width="2.4"/>
<line x1="92.2" y1="1357.5" x2="424.1" y2="1465.6" stroke="#8193c8" stroke-width="2.0"/>
<line x1="92.2" y1="1357.5" x2="96" y2="1492.2" stroke="#8193c8" stroke-width="2.0"/>
<line x1="285.6" y1="1352.4" x2="424.1" y2="1347.5" stroke="#8193c8" stroke-width="2.0"/>
<line x1="285.6" y1="1352.4" x2="761.4" y2="1482.7" stroke="#8193c8" stroke-width="2.0"/>
<line x1="285.6" y1="1352.4" x2="603.2" y2="1611.2" stroke="#8193c8" stroke-width="2.0"/>
<line x1="424.1" y1="1347.5" x2="424.1" y2="1465.6" stroke="#e2877a" stroke-width="2.4"/>
<line x1="424.1" y1="1347.5" x2="594.6" y2="1476.6" stroke="#8193c8" stroke-width="2.0"/>
<line x1="588" y1="1362.5" x2="91.6" y2="1240.4" stroke="#8193c8" stroke-width="2.0"/>
<line x1="588" y1="1362.5" x2="731.7" y2="1340.2" stroke="#8193c8" stroke-width="2.0"/>
<line x1="588" y1="1362.5" x2="594.6" y2="1476.6" stroke="#8193c8" stroke-width="2.0"/>
<line x1="588" y1="1362.5" x2="420.1" y2="1609.3" stroke="#8193c8" stroke-width="2.0"/>
<line x1="731.7" y1="1340.2" x2="603.2" y2="1611.2" stroke="#e2877a" stroke-width="2.4"/>
<line x1="731.7" y1="1340.2" x2="761.4" y2="1482.7" stroke="#e2877a" stroke-width="2.4"/>
<line x1="265.7" y1="1480.8" x2="92.2" y2="1357.5" stroke="#8193c8" stroke-width="2.0"/>
<line x1="424.1" y1="1465.6" x2="420.1" y2="1609.3" stroke="#e2877a" stroke-width="2.4"/>
<line x1="424.1" y1="1465.6" x2="603.2" y2="1611.2" stroke="#8193c8" stroke-width="2.0"/>
<line x1="594.6" y1="1476.6" x2="603.2" y2="1611.2" stroke="#8193c8" stroke-width="2.0"/>
<line x1="761.4" y1="1482.7" x2="603.2" y2="1611.2" stroke="#e2877a" stroke-width="2.4"/>
<line x1="91.6" y1="1240.4" x2="424.1" y2="1465.6" stroke="#5f72b4" stroke-width="2.7"/>
<line x1="91.6" y1="1240.4" x2="420.1" y2="1609.3" stroke="#5f72b4" stroke-width="2.7"/>
<line x1="422.6" y1="1232.2" x2="92.2" y2="1357.5" stroke="#5f72b4" stroke-width="2.7"/>
<line x1="92.2" y1="1357.5" x2="420.1" y2="1609.3" stroke="#5f72b4" stroke-width="2.7"/>
<line x1="265.7" y1="1480.8" x2="420.1" y2="1609.3" stroke="#5f72b4" stroke-width="2.7"/>
<line x1="103.6" y1="1611.9" x2="269.5" y2="1611.8" stroke="#5f72b4" stroke-width="2.7"/>
<ellipse cx="91.6" cy="1240.4" rx="46.1" ry="44.5" fill="#9CFA00"/>
<ellipse cx="260.3" cy="1236.4" rx="36.6" ry="35.4" fill="#9CFA00"/>
<ellipse cx="422.6" cy="1232.2" rx="47.9" ry="46" fill="#FCC152"/>
<ellipse cx="596.8" cy="1240.1" rx="42" ry="40.4" fill="#9CFA00"/>
<ellipse cx="92.2" cy="1357.5" rx="41.7" ry="40.7" fill="#FFFF00"/>
<ellipse cx="285.6" cy="1352.4" rx="43" ry="40.2" fill="#FCC152"/>
<ellipse cx="424.1" cy="1347.5" rx="36.8" ry="34.9" fill="#9CFA00"/>
<ellipse cx="588" cy="1362.5" rx="36.4" ry="35.2" fill="#FCC152"/>
<ellipse cx="731.7" cy="1340.2" rx="43.6" ry="42.7" fill="#FCC152"/>
<ellipse cx="96" cy="1492.2" rx="40.4" ry="38.9" fill="#9CFA00"/>
<ellipse cx="265.7" cy="1480.8" rx="42" ry="40.7" fill="#9CFA00"/>
<ellipse cx="424.1" cy="1465.6" rx="44.1" ry="42" fill="#9CFA00"/>
<ellipse cx="594.6" cy="1476.6" rx="34.1" ry="33.5" fill="#FCC152"/>
<ellipse cx="761.4" cy="1482.7" rx="44.2" ry="42.6" fill="#FCC152"/>
<ellipse cx="103.6" cy="1611.9" rx="34.1" ry="33.5" fill="#FFFF00"/>
<ellipse cx="269.5" cy="1611.8" rx="25.6" ry="24.6" fill="#FFFF00"/>
<ellipse cx="420.1" cy="1609.3" rx="46.6" ry="44.6" fill="#9CFA00"/>
<ellipse cx="603.2" cy="1611.2" rx="40.7" ry="39.2" fill="#FCC152"/>
<text x="91.9" y="1247.7" text-anchor="middle" textLength="158.5" lengthAdjust="spacingAndGlyphs" stroke="#111" stroke-width="0.25">Plant_biomass</text>
<text x="260.3" y="1243.2" text-anchor="middle" textLength="134" lengthAdjust="spacingAndGlyphs" stroke="#111" stroke-width="0.25">Plant_height</text>
<text x="422.2" y="1240.4" text-anchor="middle" textLength="128.6" lengthAdjust="spacingAndGlyphs" stroke="#111" stroke-width="0.25">Leaf_Starch</text>
<text x="596.9" y="1247.7" text-anchor="middle" textLength="113.2" lengthAdjust="spacingAndGlyphs" stroke="#111" stroke-width="0.25">Leaf_NON</text>
<text x="92.6" y="1365.2" text-anchor="middle" textLength="106.9" lengthAdjust="spacingAndGlyphs" stroke="#111" stroke-width="0.25">Leaf_ratio</text>
<text x="285.6" y="1360.2" text-anchor="middle" textLength="128.9" lengthAdjust="spacingAndGlyphs" stroke="#111" stroke-width="0.25">Root_length</text>
<text x="423.3" y="1355.5" text-anchor="middle" textLength="92.7" lengthAdjust="spacingAndGlyphs" stroke="#111" stroke-width="0.25">Leaf_SC</text>
<text x="588.7" y="1369.8" text-anchor="middle" textLength="138.3" lengthAdjust="spacingAndGlyphs" stroke="#111" stroke-width="0.25">Stem_Starch</text>
<text x="731" y="1347" text-anchor="middle" textLength="120.3" lengthAdjust="spacingAndGlyphs" stroke="#111" stroke-width="0.25">Stem_NHN</text>
<text x="96" y="1499.3" text-anchor="middle" textLength="115.3" lengthAdjust="spacingAndGlyphs" stroke="#111" stroke-width="0.25">Stem_ratio</text>
<text x="266" y="1487.4" text-anchor="middle" textLength="165.5" lengthAdjust="spacingAndGlyphs" stroke="#111" stroke-width="0.25">Ramet_number</text>
<text x="424.1" y="1473.5" text-anchor="middle" textLength="105.9" lengthAdjust="spacingAndGlyphs" stroke="#111" stroke-width="0.25">Leaf_FAA</text>
<text x="594.3" y="1483.6" text-anchor="middle" textLength="101.6" lengthAdjust="spacingAndGlyphs" stroke="#111" stroke-width="0.25">Stem_SC</text>
<text x="761.4" y="1489.9" text-anchor="middle" textLength="121" lengthAdjust="spacingAndGlyphs" stroke="#111" stroke-width="0.25">Stem_NON</text>
<text x="103" y="1619.6" text-anchor="middle" textLength="110" lengthAdjust="spacingAndGlyphs" stroke="#111" stroke-width="0.25">Root_ratio</text>
<text x="269.5" y="1619.6" text-anchor="middle" textLength="91.7" lengthAdjust="spacingAndGlyphs" stroke="#111" stroke-width="0.25">AB_ratio</text>
<text x="419.7" y="1617" text-anchor="middle" textLength="111.8" lengthAdjust="spacingAndGlyphs" stroke="#111" stroke-width="0.25">Leaf_NHN</text>
<text x="603.4" y="1618.8" text-anchor="middle" textLength="116.3" lengthAdjust="spacingAndGlyphs" stroke="#111" stroke-width="0.25">Stem_FAA</text>
</g>
<g font-family="Liberation Serif, serif" fill="#000">
<text x="85.7" y="61.2" font-size="66" textLength="44.7" lengthAdjust="spacingAndGlyphs">A</text>
<text x="93.6" y="625.8" font-size="66" textLength="39.9" lengthAdjust="spacingAndGlyphs">B</text>
<text x="93.6" y="1176.5" font-size="66" textLength="39.9" lengthAdjust="spacingAndGlyphs">C</text>
<text x="257.8" y="57.2" font-size="50" font-style="italic" textLength="358.2" lengthAdjust="spacingAndGlyphs">Vallisneria natans</text>
<text x="216.1" y="623.1" font-size="50" font-style="italic" textLength="468.4" lengthAdjust="spacingAndGlyphs">Myriophyllum spicatum</text>
<text x="189.2" y="1170.4" font-size="50" font-style="italic" textLength="509.1" lengthAdjust="spacingAndGlyphs">Potamogeton maackianus</text>
</g>
<g font-family="Liberation Serif, serif" fill="#000">
<rect x="1018.9" y="74" width="136.2" height="383.6" fill="#FFFDAA" stroke="#4a4a40" stroke-width="1.2"/>
<rect x="1246.3" y="346.8" width="136.2" height="110.8" fill="#FFFDAA" stroke="#4a4a40" stroke-width="1.2"/>
<rect x="1473.8" y="335.7" width="136.2" height="121.9" fill="#FFFDAA" stroke="#4a4a40" stroke-width="1.2"/>
<rect x="973.3" y="48.6" width="682.3" height="409" fill="none" stroke="#000" stroke-width="2.6"/>
<line x1="964.3" y1="457.6" x2="973.3" y2="457.6" stroke="#000" stroke-width="2.6"/>
<line x1="964.3" y1="355.4" x2="973.3" y2="355.4" stroke="#000" stroke-width="2.6"/>
<line x1="964.3" y1="253.1" x2="973.3" y2="253.1" stroke="#000" stroke-width="2.6"/>
<line x1="964.3" y1="150.8" x2="973.3" y2="150.8" stroke="#000" stroke-width="2.6"/>
<line x1="964.3" y1="48.6" x2="973.3" y2="48.6" stroke="#000" stroke-width="2.6"/>
<line x1="968.3" y1="406.5" x2="973.3" y2="406.5" stroke="#000" stroke-width="2.4"/>
<line x1="968.3" y1="304.2" x2="973.3" y2="304.2" stroke="#000" stroke-width="2.4"/>
<line x1="968.3" y1="202" x2="973.3" y2="202" stroke="#000" stroke-width="2.4"/>
<line x1="968.3" y1="99.7" x2="973.3" y2="99.7" stroke="#000" stroke-width="2.4"/>
<line x1="1087" y1="457.6" x2="1087" y2="466.6" stroke="#000" stroke-width="2.6"/>
<line x1="1314.4" y1="457.6" x2="1314.4" y2="466.6" stroke="#000" stroke-width="2.6"/>
<line x1="1541.9" y1="457.6" x2="1541.9" y2="466.6" stroke="#000" stroke-width="2.6"/>
<line x1="973.3" y1="457.6" x2="973.3" y2="462.6" stroke="#000" stroke-width="2.4"/>
<line x1="1200.7" y1="457.6" x2="1200.7" y2="462.6" stroke="#000" stroke-width="2.4"/>
<line x1="1428.2" y1="457.6" x2="1428.2" y2="462.6" stroke="#000" stroke-width="2.4"/>
<line x1="1655.6" y1="457.6" x2="1655.6" y2="462.6" stroke="#000" stroke-width="2.4"/>
<text x="954.5" y="469.4" text-anchor="end" font-size="36.5">0.05</text>
<text x="954.5" y="367.2" text-anchor="end" font-size="36.5">0.10</text>
<text x="954.5" y="264.9" text-anchor="end" font-size="36.5">0.15</text>
<text x="954.5" y="162.6" text-anchor="end" font-size="36.5">0.20</text>
<text x="954.5" y="60.4" text-anchor="end" font-size="36.5">0.25</text>
<text x="1089" y="504.1" text-anchor="middle" font-size="37" font-style="italic" textLength="142" lengthAdjust="spacingAndGlyphs">V. natans</text>
<text x="1314.6" y="504.1" text-anchor="middle" font-size="37" font-style="italic" textLength="187.5" lengthAdjust="spacingAndGlyphs">M. spicatum</text>
<text x="1541.5" y="504.1" text-anchor="middle" font-size="37" font-style="italic" textLength="223.5" lengthAdjust="spacingAndGlyphs">P. maackianus</text>
<text x="839.9" y="61.5" font-size="64" textLength="45.8" lengthAdjust="spacingAndGlyphs">D</text>
<text transform="translate(879,253.1) rotate(-90)" text-anchor="middle" font-size="38">Modularity</text>
<rect x="1018.9" y="992.5" width="136.2" height="24" fill="#FFFDAA" stroke="#4a4a40" stroke-width="1.2"/>
<rect x="1246.3" y="710" width="136.2" height="306.5" fill="#FFFDAA" stroke="#4a4a40" stroke-width="1.2"/>
<rect x="1473.8" y="710" width="136.2" height="306.5" fill="#FFFDAA" stroke="#4a4a40" stroke-width="1.2"/>
<rect x="973.3" y="607.9" width="682.3" height="408.6" fill="none" stroke="#000" stroke-width="2.6"/>
<line x1="964.3" y1="1016.5" x2="973.3" y2="1016.5" stroke="#000" stroke-width="2.6"/>
<line x1="964.3" y1="812.2" x2="973.3" y2="812.2" stroke="#000" stroke-width="2.6"/>
<line x1="964.3" y1="607.9" x2="973.3" y2="607.9" stroke="#000" stroke-width="2.6"/>
<line x1="968.3" y1="914.4" x2="973.3" y2="914.4" stroke="#000" stroke-width="2.4"/>
<line x1="968.3" y1="710" x2="973.3" y2="710" stroke="#000" stroke-width="2.4"/>
<line x1="1087" y1="1016.5" x2="1087" y2="1025.5" stroke="#000" stroke-width="2.6"/>
<line x1="1314.4" y1="1016.5" x2="1314.4" y2="1025.5" stroke="#000" stroke-width="2.6"/>
<line x1="1541.9" y1="1016.5" x2="1541.9" y2="1025.5" stroke="#000" stroke-width="2.6"/>
<line x1="973.3" y1="1016.5" x2="973.3" y2="1021.5" stroke="#000" stroke-width="2.4"/>
<line x1="1200.7" y1="1016.5" x2="1200.7" y2="1021.5" stroke="#000" stroke-width="2.4"/>
<line x1="1428.2" y1="1016.5" x2="1428.2" y2="1021.5" stroke="#000" stroke-width="2.4"/>
<line x1="1655.6" y1="1016.5" x2="1655.6" y2="1021.5" stroke="#000" stroke-width="2.4"/>
<text x="954.5" y="1028.3" text-anchor="end" font-size="35.5">8</text>
<text x="954.5" y="824" text-anchor="end" font-size="35.5">10</text>
<text x="954.5" y="619.7" text-anchor="end" font-size="35.5">12</text>
<text x="1089" y="1063" text-anchor="middle" font-size="37" font-style="italic" textLength="142" lengthAdjust="spacingAndGlyphs">V. natans</text>
<text x="1314.6" y="1063" text-anchor="middle" font-size="37" font-style="italic" textLength="187.5" lengthAdjust="spacingAndGlyphs">M. spicatum</text>
<text x="1541.5" y="1063" text-anchor="middle" font-size="37" font-style="italic" textLength="223.5" lengthAdjust="spacingAndGlyphs">P. maackianus</text>
<text x="844.1" y="626.6" font-size="64" textLength="39.1" lengthAdjust="spacingAndGlyphs">E</text>
<text transform="translate(879,812.2) rotate(-90)" text-anchor="middle" font-size="38">Average degree</text>
<rect x="1018.9" y="1312.6" width="136.2" height="263.9" fill="#FFFDAA" stroke="#4a4a40" stroke-width="1.2"/>
<rect x="1246.3" y="1494.7" width="136.2" height="81.8" fill="#FFFDAA" stroke="#4a4a40" stroke-width="1.2"/>
<rect x="1473.8" y="1429.8" width="136.2" height="146.7" fill="#FFFDAA" stroke="#4a4a40" stroke-width="1.2"/>
<rect x="973.3" y="1165.5" width="682.3" height="411" fill="none" stroke="#000" stroke-width="2.6"/>
<line x1="964.3" y1="1535.4" x2="973.3" y2="1535.4" stroke="#000" stroke-width="2.6"/>
<line x1="964.3" y1="1412.1" x2="973.3" y2="1412.1" stroke="#000" stroke-width="2.6"/>
<line x1="964.3" y1="1288.8" x2="973.3" y2="1288.8" stroke="#000" stroke-width="2.6"/>
<line x1="964.3" y1="1165.5" x2="973.3" y2="1165.5" stroke="#000" stroke-width="2.6"/>
<line x1="968.3" y1="1473.8" x2="973.3" y2="1473.8" stroke="#000" stroke-width="2.4"/>
<line x1="968.3" y1="1350.5" x2="973.3" y2="1350.5" stroke="#000" stroke-width="2.4"/>
<line x1="968.3" y1="1227.2" x2="973.3" y2="1227.2" stroke="#000" stroke-width="2.4"/>
<line x1="1087" y1="1576.5" x2="1087" y2="1585.5" stroke="#000" stroke-width="2.6"/>
<line x1="1314.4" y1="1576.5" x2="1314.4" y2="1585.5" stroke="#000" stroke-width="2.6"/>
<line x1="1541.9" y1="1576.5" x2="1541.9" y2="1585.5" stroke="#000" stroke-width="2.6"/>
<line x1="973.3" y1="1576.5" x2="973.3" y2="1581.5" stroke="#000" stroke-width="2.4"/>
<line x1="1200.7" y1="1576.5" x2="1200.7" y2="1581.5" stroke="#000" stroke-width="2.4"/>
<line x1="1428.2" y1="1576.5" x2="1428.2" y2="1581.5" stroke="#000" stroke-width="2.4"/>
<line x1="1655.6" y1="1576.5" x2="1655.6" y2="1581.5" stroke="#000" stroke-width="2.4"/>
<text x="954.5" y="1547.2" text-anchor="end" font-size="36.5">0.81</text>
<text x="954.5" y="1423.9" text-anchor="end" font-size="36.5">0.84</text>
<text x="954.5" y="1300.6" text-anchor="end" font-size="36.5">0.87</text>
<text x="954.5" y="1177.3" text-anchor="end" font-size="36.5">0.90</text>
<text x="1089" y="1623" text-anchor="middle" font-size="37" font-style="italic" textLength="142" lengthAdjust="spacingAndGlyphs">V. natans</text>
<text x="1314.6" y="1623" text-anchor="middle" font-size="37" font-style="italic" textLength="187.5" lengthAdjust="spacingAndGlyphs">M. spicatum</text>
<text x="1541.5" y="1623" text-anchor="middle" font-size="37" font-style="italic" textLength="223.5" lengthAdjust="spacingAndGlyphs">P. maackianus</text>
<text x="845.9" y="1175.7" font-size="64" textLength="34.3" lengthAdjust="spacingAndGlyphs">F</text>
<text transform="translate(879,1371) rotate(-90)" text-anchor="middle" font-size="38">Average diameter</text>
</g>
<line x1="1661.5" y1="0" x2="1661.5" y2="1666" stroke="#000" stroke-width="1"/>
</svg></body></html>
